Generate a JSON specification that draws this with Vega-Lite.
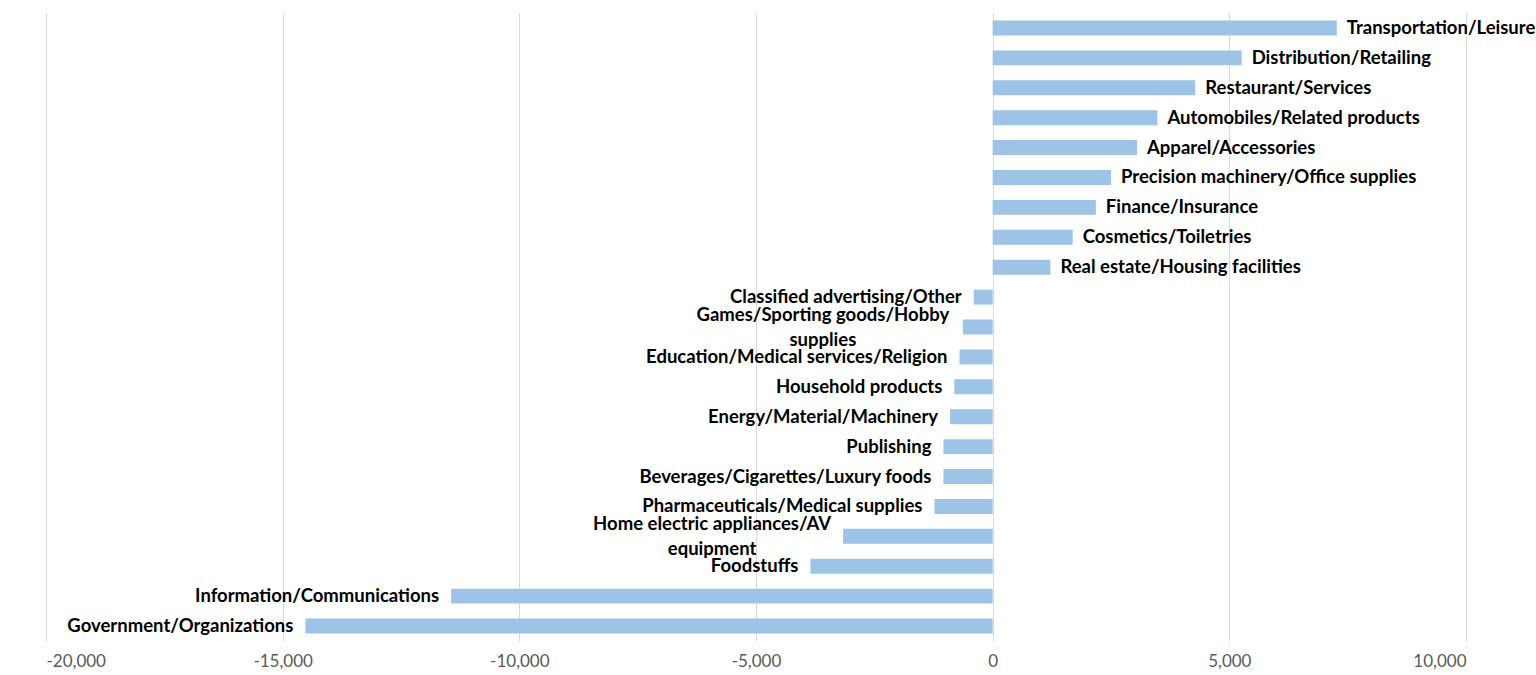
{
  "$schema": "https://vega.github.io/schema/vega-lite/v6.json",
  "width": 1420,
  "height": 628,
  "autosize": {"type": "none"},
  "padding": {"left": 46, "top": 13, "right": 70, "bottom": 34},
  "background": "white",
  "config": {"view": {"stroke": null}, "font": "Lato"},
  "data": {
    "values": [
      {"category": "Transportation/Leisure", "label": "Transportation/Leisure", "value": 7270},
      {"category": "Distribution/Retailing", "label": "Distribution/Retailing", "value": 5260},
      {"category": "Restaurant/Services", "label": "Restaurant/Services", "value": 4280},
      {"category": "Automobiles/Related products", "label": "Automobiles/Related products", "value": 3480},
      {"category": "Apparel/Accessories", "label": "Apparel/Accessories", "value": 3050},
      {"category": "Precision machinery/Office supplies", "label": "Precision machinery/Office supplies", "value": 2500},
      {"category": "Finance/Insurance", "label": "Finance/Insurance", "value": 2180},
      {"category": "Cosmetics/Toiletries", "label": "Cosmetics/Toiletries", "value": 1690},
      {"category": "Real estate/Housing facilities", "label": "Real estate/Housing facilities", "value": 1220},
      {"category": "Classified advertising/Other", "label": "Classified advertising/Other", "value": -400},
      {"category": "Games/Sporting goods/Hobby supplies", "label": "Games/Sporting goods/Hobby\nsupplies", "value": -630},
      {"category": "Education/Medical services/Religion", "label": "Education/Medical services/Religion", "value": -700},
      {"category": "Household products", "label": "Household products", "value": -810},
      {"category": "Energy/Material/Machinery", "label": "Energy/Material/Machinery", "value": -900},
      {"category": "Publishing", "label": "Publishing", "value": -1040},
      {"category": "Beverages/Cigarettes/Luxury foods", "label": "Beverages/Cigarettes/Luxury foods", "value": -1040},
      {"category": "Pharmaceuticals/Medical supplies", "label": "Pharmaceuticals/Medical supplies", "value": -1230},
      {"category": "Home electric appliances/AV equipment", "label": "Home electric appliances/AV\nequipment", "value": -3160},
      {"category": "Foodstuffs", "label": "Foodstuffs", "value": -3850},
      {"category": "Information/Communications", "label": "Information/Communications", "value": -11440},
      {"category": "Government/Organizations", "label": "Government/Organizations", "value": -14520}
    ]
  },
  "encoding": {
    "y": {
      "field": "category",
      "type": "nominal",
      "sort": null,
      "axis": null,
      "scale": {"paddingInner": 0.5, "paddingOuter": 0.25}
    },
    "x": {
      "field": "value",
      "type": "quantitative",
      "scale": {"domain": [-20000, 10000], "nice": false},
      "axis": {
        "values": [-20000, -15000, -10000, -5000, 0, 5000, 10000],
        "format": ",d",
        "labelExpr": "replace(datum.label, '−', '-')",
        "grid": true,
        "gridColor": "#d9d9d9",
        "gridWidth": 1,
        "domain": false,
        "ticks": false,
        "labelColor": "#595959",
        "labelFontSize": 17,
        "labelFont": "Lato",
        "labelPadding": 12,
        "title": null
      }
    }
  },
  "layer": [
    {"mark": {"type": "bar", "color": "#9dc3e6"}},
    {
      "transform": [{"filter": "datum.value > 0"}],
      "mark": {"type": "text", "align": "left", "baseline": "middle", "dx": 10, "fontWeight": "bold", "fontSize": 18.5, "color": "#000000"},
      "encoding": {"text": {"field": "label"}}
    },
    {
      "transform": [{"filter": "datum.value < 0 && datum.category != 'Games/Sporting goods/Hobby supplies' && datum.category != 'Home electric appliances/AV equipment'"}],
      "mark": {"type": "text", "align": "right", "baseline": "middle", "dx": -12, "fontWeight": "bold", "fontSize": 18.5, "color": "#000000"},
      "encoding": {"text": {"field": "label"}}
    },
    {
      "transform": [{"filter": "datum.category == 'Games/Sporting goods/Hobby supplies'"}],
      "mark": {"type": "text", "align": "center", "baseline": "middle", "dx": -140, "dy": -12, "lineBreak": "\n", "lineHeight": 25, "fontWeight": "bold", "fontSize": 18.5, "color": "#000000"},
      "encoding": {"text": {"field": "label"}}
    },
    {
      "transform": [{"filter": "datum.category == 'Home electric appliances/AV equipment'"}],
      "mark": {"type": "text", "align": "center", "baseline": "middle", "dx": -131, "dy": -12, "lineBreak": "\n", "lineHeight": 25, "fontWeight": "bold", "fontSize": 18.5, "color": "#000000"},
      "encoding": {"text": {"field": "label"}}
    }
  ]
}
